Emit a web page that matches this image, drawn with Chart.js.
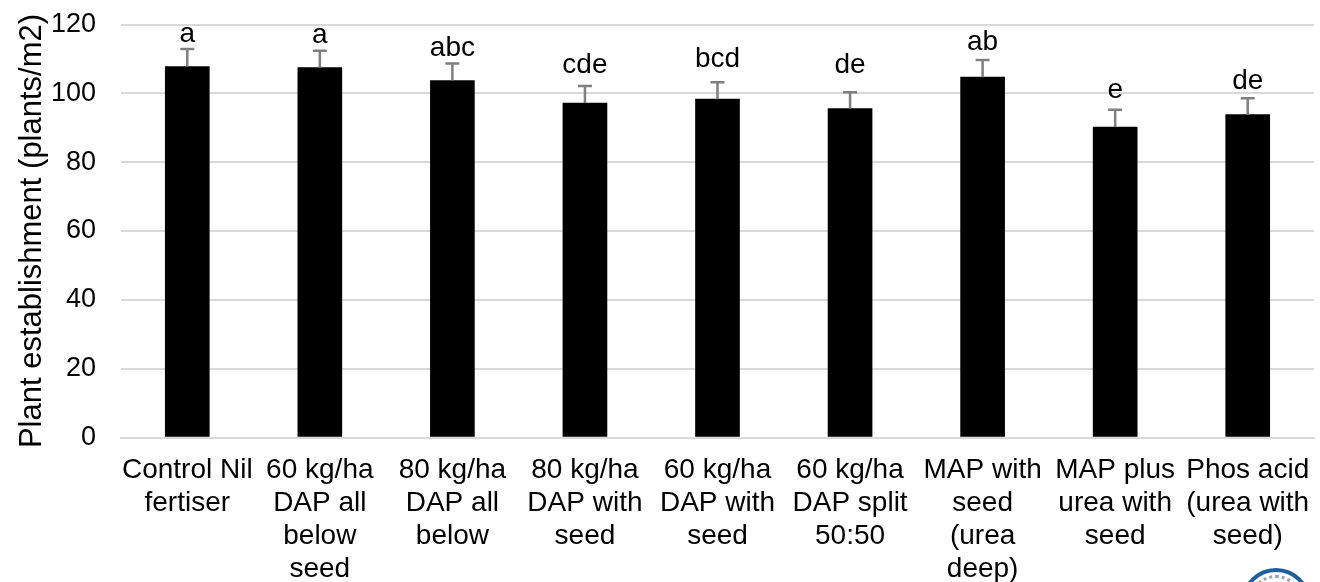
<!DOCTYPE html>
<html><head><meta charset="utf-8">
<style>html,body{margin:0;padding:0;background:#fff;overflow:hidden}#w{position:relative;width:1320px;height:582px}canvas{display:block}
#logo{position:absolute;left:1241px;top:568px;width:70px;height:70px;box-sizing:border-box;border:4px solid #1f5f9e;border-radius:50%;background:#fff}
#logo:after{content:"";position:absolute;left:3px;top:3px;right:3px;bottom:3px;border:3px dotted #9aa5b0;border-radius:50%}</style>
<script src="https://cdn.jsdelivr.net/npm/chart.js@4"></script></head>
<body><div id="w"><canvas id="c" width="1320" height="582"></canvas><div id="logo"></div></div>
<script>
const categories=[["Control Nil","fertiser"],["60 kg/ha","DAP all","below","seed"],["80 kg/ha","DAP all","below"],["80 kg/ha","DAP with","seed"],["60 kg/ha","DAP with","seed"],["60 kg/ha","DAP split","50:50"],["MAP with","seed","(urea","deep)"],["MAP plus","urea with","seed"],["Phos acid","(urea with","seed)"]];
const values=[107.8,107.5,103.7,97.2,98.3,95.6,104.7,90.2,93.8];
const errors=[5.1,4.9,5.0,4.9,4.9,4.7,5.0,5.0,4.8];
const letters=["a","a","abc","cde","bcd","de","ab","e","de"];
const letterLevels=[114.9,114.6,110.8,105.9,107.6,105.9,112.6,98.6,101.2];
const yTitle="Plant establishment (plants/m2)";
const FONT="Liberation Sans";
const overlay={id:"overlay",afterDatasetsDraw(ch){
 const c=ch.ctx,x=ch.scales.x,y=ch.scales.y;c.save();
 values.forEach((v,i)=>{
  const px=x.getPixelForValue(i),t=y.getPixelForValue(v),e=y.getPixelForValue(v+errors[i]);
  c.strokeStyle="#7f7f7f";c.lineWidth=2.5;
  c.beginPath();c.moveTo(px,t);c.lineTo(px,e);c.moveTo(px-7,e);c.lineTo(px+7,e);c.stroke();
  c.fillStyle="#000";c.font="28px '"+FONT+"'";c.textAlign="center";c.textBaseline="alphabetic";
  c.fillText(letters[i],px,y.getPixelForValue(letterLevels[i]));
 });
 c.restore();
}};
new Chart(document.getElementById("c"),{type:"bar",plugins:[overlay],
data:{labels:categories,datasets:[{data:values,backgroundColor:"#000",barThickness:44,borderWidth:0}]},
options:{responsive:false,animation:false,
 layout:{padding:{left:0,right:6,top:24.5,bottom:0}},
 plugins:{legend:{display:false},tooltip:{enabled:false}},
 scales:{
  x:{afterFit(s){s.height=144.5;s.paddingLeft=0;s.paddingRight=0;},grid:{display:false,drawTicks:false},border:{color:"#d9d9d9",width:2},
     ticks:{color:"#000",font:{family:FONT,size:28,lineHeight:1.18},padding:16,maxRotation:0,minRotation:0,autoSkip:false}},
  y:{min:0,max:120,afterFit(s){s.width=121;s.paddingTop=0;s.paddingBottom=0;},
     grid:{color:"#d9d9d9",lineWidth:2,drawTicks:false},border:{display:false},
     ticks:{stepSize:20,color:"#000",font:{family:FONT,size:27},padding:25},
     title:{display:true,text:yTitle,color:"#000",font:{family:FONT,size:31},padding:{top:14,bottom:0}}}
 }}});
</script></body></html>
